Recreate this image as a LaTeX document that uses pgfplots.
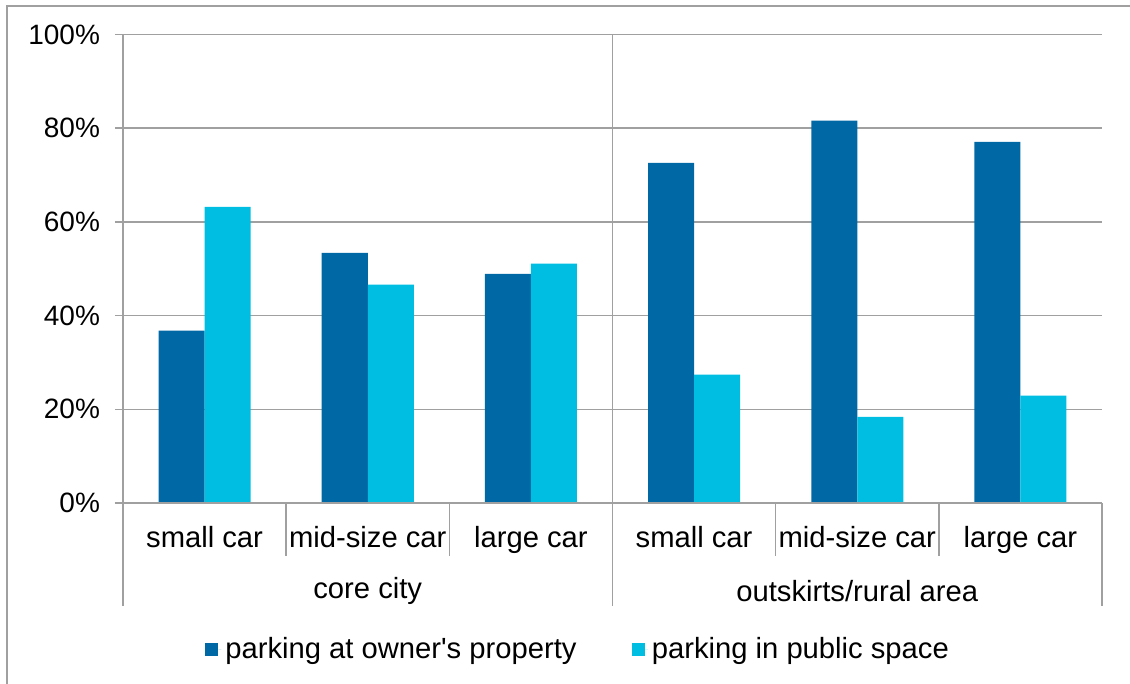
\documentclass[border=0pt]{standalone}
\usepackage{pgfplots}
\pgfplotsset{compat=1.18}
\usepackage{fontspec}
\setmainfont{Liberation Sans}
\definecolor{darkb}{HTML}{0068A4}
\definecolor{lightb}{HTML}{00BEE2}
\definecolor{gridc}{HTML}{A0A0A0}
\begin{document}
\begin{tikzpicture}
\useasboundingbox (0,0) rectangle (565pt,342pt);
\draw[gridc, line width=1.2pt] (3.5pt,0) -- (3.5pt,339pt) -- (565pt,339pt);
\begin{axis}[
  at={(61.5pt,90.5pt)}, anchor=south west,
  scale only axis, width=489.5pt, height=234.25pt,
  ybar=0pt, bar width=23pt,
  xmin=-0.5, xmax=5.5, ymin=0, ymax=100,
  axis line style={draw=none},
  xtick={0,...,5}, xticklabels={small car,mid-size car,large car,small car,mid-size car,large car},
  x tick style={draw=none},
  xticklabel style={yshift=-4pt, font=\fontsize{14.6}{16}\selectfont},
  ytick={0,20,...,100},
  yticklabel={\pgfmathprintnumber{\tick}\%},
  ymajorgrids, grid style={gridc, line width=0.7pt},
  y tick style={gridc, line width=0.7pt},
  tick pos=left, tick align=outside, major tick length=4pt,
  yticklabel style={xshift=-4pt, font=\fontsize{14}{16}\selectfont},
  font=\fontsize{14.6}{16}\selectfont,
  tick label style={text=black},
  /pgf/number format/assume math mode=true,
  legend style={at={(axis description cs:0.4658,-0.3126)}, anchor=center, draw=none, legend columns=2,
    font=\fontsize{14.6}{16}\selectfont,
    /tikz/every even column/.append style={column sep=25.5pt}},
  legend image code/.code={\fill[#1,draw=none] (0pt,-3.3pt) rectangle (6.6pt,3.3pt); \path (6.6pt,0) -- (8.1pt,0);},
  clip=false,
]
\addplot[fill=darkb, draw=none] coordinates {(0,36.8) (1,53.4) (2,48.9) (3,72.6) (4,81.6) (5,77.1)};
\addplot[fill=lightb, draw=none] coordinates {(0,63.2) (1,46.6) (2,51.1) (3,27.4) (4,18.4) (5,22.9)};
\legend{parking at owner\textquotesingle s property, parking in public space}
\draw[gridc, line width=0.7pt] (axis cs:-0.5,100) -- ([yshift=-51.5pt]axis cs:-0.5,0);
\draw[gridc, line width=0.7pt] (axis cs:2.5,100) -- ([yshift=-51.5pt]axis cs:2.5,0);
\draw[gridc, line width=0.7pt] (axis cs:5.5,0) -- ([yshift=-51.5pt]axis cs:5.5,0);
\draw[gridc, line width=0.7pt] ([xshift=-4pt]axis cs:-0.5,0) -- (axis cs:5.5,0);
\draw[gridc, line width=0.7pt] (axis cs:0.5,0) -- ([yshift=-26.5pt]axis cs:0.5,0);
\draw[gridc, line width=0.7pt] (axis cs:1.5,0) -- ([yshift=-26.5pt]axis cs:1.5,0);
\draw[gridc, line width=0.7pt] (axis cs:3.5,0) -- ([yshift=-26.5pt]axis cs:3.5,0);
\draw[gridc, line width=0.7pt] (axis cs:4.5,0) -- ([yshift=-26.5pt]axis cs:4.5,0);
\node[anchor=center] at ([yshift=-44pt]axis cs:1,0) {core city};
\node[anchor=center] at ([yshift=-44pt]axis cs:4,0) {outskirts/rural area};
\end{axis}
\end{tikzpicture}
\end{document}
